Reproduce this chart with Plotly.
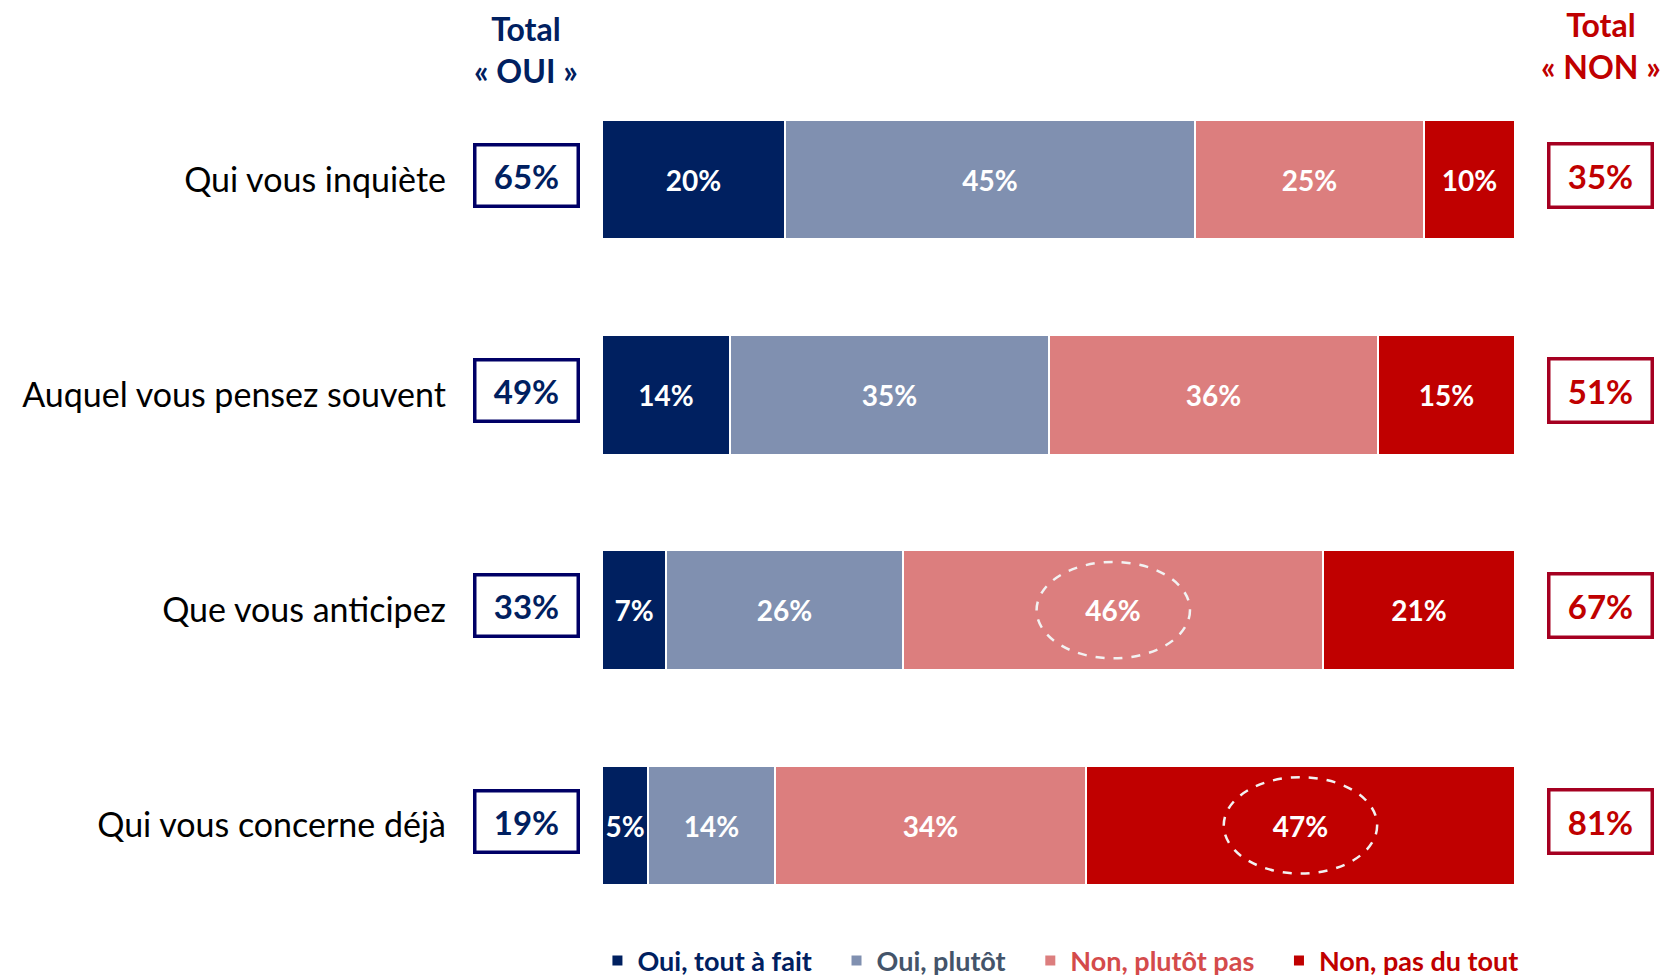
import plotly.graph_objects as go

categories = ["Qui vous inquiète", "Auquel vous pensez souvent", "Que vous anticipez", "Qui vous concerne déjà"]
series_names = ["Oui, tout à fait", "Oui, plutôt", "Non, plutôt pas", "Non, pas du tout"]
oui_tout = [20, 14, 7, 5]
oui_plutot = [45, 35, 26, 14]
non_plutot = [25, 36, 46, 34]
non_pas = [10, 15, 21, 47]
total_oui = [65, 49, 33, 19]
total_non = [35, 51, 67, 81]
highlight = [(2, 2), (3, 3)]  # (row index, series index) circled

colors = ["#002060", "#8090B0", "#DC7E7E", "#C00000"]
legend_text_colors = ["#002060", "#44546A", "#D44B4B", "#C00000"]
FONT = "Lato"

ypos = list(range(len(categories)))
series = [oui_tout, oui_plutot, non_plutot, non_pas]

fig = go.Figure()
for i, (name, vals) in enumerate(zip(series_names, series)):
    pad = "\u00a0" * 3 if i < len(series_names) - 1 else ""
    fig.add_trace(go.Bar(
        y=ypos, x=vals, orientation="h", width=0.555,
        name=f"<span style='color:{legend_text_colors[i]}'>{name}{pad}</span>",
        marker=dict(color=colors[i], line=dict(color="white", width=2)),
        text=[f"{v}%" for v in vals], textposition="inside",
        insidetextanchor="middle", constraintext="none",
        textfont=dict(family=FONT, size=28, color="white", weight="bold"),
        hoverinfo="skip",
    ))

# dashed ellipses around highlighted segments
for r, s in highlight:
    start = sum(series[k][r] for k in range(s))
    mid = start + series[s][r] / 2
    fig.add_shape(type="circle", xref="x", yref="y",
                  x0=mid - 8.4, x1=mid + 8.4, y0=r - 0.224, y1=r + 0.224,
                  line=dict(color="#F2F2F2", width=2.5, dash="dash"))

H = 979
top, bottom = 72, 46
plot_h = H - top - bottom

# total boxes
for r in ypos:
    fig.add_annotation(x=-0.0832, xref="paper", xanchor="center", yanchor="middle",
                       y=r - 0.02, yref="y",
                       text=f"<b>{total_oui[r]}%</b>", showarrow=False,
                       font=dict(family=FONT, size=33, color="#002060"),
                       width=100, height=58, borderpad=0, borderwidth=3.5,
                       bordercolor="#000066", bgcolor="white")
    fig.add_annotation(x=1.0937, xref="paper", xanchor="center", yanchor="middle",
                       y=r - 0.02, yref="y",
                       text=f"<b>{total_non[r]}%</b>", showarrow=False,
                       font=dict(family=FONT, size=33, color="#C00000"),
                       width=100, height=60, borderpad=0, borderwidth=3.5,
                       bordercolor="#A50021", bgcolor="white")

# headers
fig.add_annotation(x=-0.0832, xref="paper", xanchor="center",
                   y=1 + (top - 50) / plot_h, yref="paper", yanchor="middle",
                   text="<b>Total<br>« OUI »</b>", showarrow=False,
                   font=dict(family=FONT, size=32, color="#002060"))
fig.add_annotation(x=1.0937, xref="paper", xanchor="center",
                   y=1 + (top - 45) / plot_h, yref="paper", yanchor="middle",
                   text="<b>Total<br>« NON »</b>", showarrow=False,
                   font=dict(family=FONT, size=32, color="#C00000"))

fig.update_layout(
    width=1663, height=979,
    barmode="stack", bargap=0,
    margin=dict(l=602, r=148, t=top, b=bottom, autoexpand=False),
    plot_bgcolor="white", paper_bgcolor="white",
    xaxis=dict(range=[0, 100], visible=False, fixedrange=True),
    yaxis=dict(range=[3.5, -0.5], tickvals=ypos, ticktext=categories,
               showgrid=False, zeroline=False, showline=False, ticks="",
               ticklabelstandoff=155, fixedrange=True,
               tickfont=dict(family=FONT, size=34, color="black")),
    showlegend=True,
    legend=dict(orientation="h", x=-0.005, xanchor="left", y=-0.0325, yanchor="middle",
                font=dict(family=FONT, size=27, weight="bold"), traceorder="normal",
                bgcolor="rgba(0,0,0,0)"),
    font=dict(family=FONT),
)

fig.write_html("out.html", config={"displayModeBar": False},
               post_script="document.body.style.margin='0';document.body.style.overflow='hidden';")
